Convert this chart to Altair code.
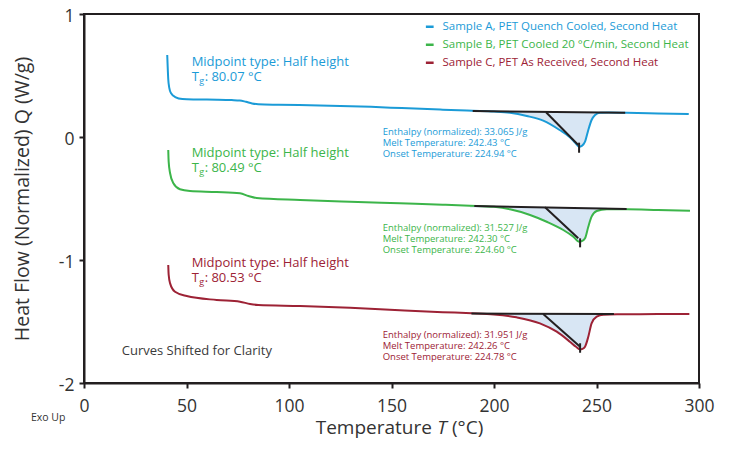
import altair as alt
import pandas as pd

FONT = "Open Sans"
AX = "#231f20"
FILL = "#d8e6f4"

SERIES = ["Sample A, PET Quench Cooled, Second Heat",
          "Sample B, PET Cooled 20 °C/min, Second Heat",
          "Sample C, PET As Received, Second Heat"]
COLORS = ["#1b9bd7", "#3cb54a", "#9d2235"]

# Curve A (blue)
A_T = [40.6, 40.8, 41.1, 41.6, 42.5, 44.5, 48, 55, 65, 72, 76, 79, 82, 85, 95, 115, 140, 155, 175,
       189.6, 200, 207.8, 216, 224, 232, 237, 239.5, 241.5, 243, 244.4, 246, 247.6, 249.3, 251.7,
       256, 264.7, 280, 295]
A_Q = [0.667, 0.58, 0.47, 0.40, 0.355, 0.325, 0.308, 0.305, 0.303, 0.300, 0.297, 0.286, 0.273, 0.266,
       0.262, 0.257, 0.245, 0.235, 0.222,
       0.213, 0.207, 0.197, 0.171, 0.133, 0.057, -0.002, -0.045, -0.079, -0.07, -0.038, 0.057, 0.138,
       0.179, 0.198, 0.199, 0.197, 0.192, 0.187]

# Curve B (green)
B_T = [41.1, 41.3, 42, 43.6, 46.8, 51.7, 64.7, 76.1, 80.2, 84.2, 105.4, 129.8, 154, 175, 188.3,
       200, 207.8, 217.6, 225.7, 233.8, 238.7, 241.6, 243, 244.4, 246, 247.6, 250.1, 255, 265, 280, 295.6]
B_Q = [-0.106, -0.2, -0.295, -0.376, -0.425, -0.439, -0.447, -0.458, -0.480, -0.496, -0.512, -0.526,
       -0.539, -0.550, -0.558, -0.568, -0.588, -0.634, -0.689, -0.756, -0.810, -0.851, -0.845, -0.824,
       -0.729, -0.648, -0.602, -0.588, -0.587, -0.593, -0.599]

# Curve C (red)
C_T = [41.1, 41.3, 42, 44.4, 50.1, 64.7, 76.1, 81, 85, 105.4, 129.8, 154, 175, 189.1, 200, 211,
       222.4, 230.6, 237, 240, 242, 243.2, 244.4, 246, 247.6, 250.1, 253.3, 260, 280, 295.3]
C_Q = [-1.041, -1.12, -1.19, -1.258, -1.293, -1.325, -1.339, -1.358, -1.366, -1.374, -1.388, -1.408,
       -1.424, -1.433, -1.443, -1.466, -1.515, -1.583, -1.664, -1.705, -1.726, -1.722, -1.705, -1.624,
       -1.515, -1.461, -1.445, -1.441, -1.44, -1.44]

# analysis constructions
BASELINES = [(189.6, 0.211, 264.0, 0.198), (190.4, -0.561, 264.7, -0.585), (189.0, -1.435, 258.5, -1.44)]
TANGENTS = [(225.4, 0.201, 241.1, -0.065), (224.9, -0.572, 241.1, -0.824), (224.0, -1.44, 242.0, -1.705)]
TICKS = [(241.5, -0.046, -0.128), (242.0, -0.824, -0.897), (242.0, -1.677, -1.754)]
FILL_RANGE = [(189.6, 251.7, 0.205), (188.3, 255.0, -0.573), (189.1, 253.3, -1.438)]

TG = ["80.07", "80.49", "80.53"]
ENTHALPY = ["33.065", "31.527", "31.951"]
MELT = ["242.43", "242.30", "242.26"]
ONSET = ["224.94", "224.60", "224.78"]

# annotation anchors (data coordinates)
MID_X = 52.5
MID_Y = [0.61, -0.128, -1.024]
MELT_X = 145.7
MELT_Y = [0.043, -0.737, -1.61]
SHIFT_POS = (18.4, -1.737)
EXO_POS = (-25.9, -2.285)
XTITLE_POS = (174.6, -2.415)

curves = pd.concat([
    pd.DataFrame({"T": t, "Q": q, "series": s})
    for t, q, s in [(A_T, A_Q, SERIES[0]), (B_T, B_Q, SERIES[1]), (C_T, C_Q, SERIES[2])]
], ignore_index=True)

fills = []
for s, (lo, hi, base) in zip(SERIES, FILL_RANGE):
    sub = curves[(curves.series == s) & (curves["T"] >= lo) & (curves["T"] <= hi)].copy()
    sub["base"] = base
    fills.append(sub)
fill_df = pd.concat(fills, ignore_index=True)

segs = []
for s, b, t, k in zip(SERIES, BASELINES, TANGENTS, TICKS):
    segs.append({"series": s, "T": b[0], "Q": b[1], "T2": b[2], "Q2": b[3]})
    segs.append({"series": s, "T": t[0], "Q": t[1], "T2": t[2], "Q2": t[3]})
    segs.append({"series": s, "T": k[0], "Q": k[1], "T2": k[0], "Q2": k[2]})
seg_df = pd.DataFrame(segs)

mid_df = pd.DataFrame({
    "T": [MID_X] * 3, "Q": MID_Y, "series": SERIES,
    "line1": ["Midpoint type: Half height"] * 3,
    "tchar": ["T"] * 3, "gchar": ["g"] * 3,
    "rest": [": " + v + " °C" for v in TG],
})
melt_df = pd.DataFrame({
    "T": [MELT_X] * 3, "Q": MELT_Y, "series": SERIES,
    "l1": ["Enthalpy (normalized): " + v + " J/g" for v in ENTHALPY],
    "l2": ["Melt Temperature: " + v + " °C" for v in MELT],
    "l3": ["Onset Temperature: " + v + " °C" for v in ONSET],
})

xscale = alt.Scale(domain=[0, 300], nice=False, zero=False)
yscale = alt.Scale(domain=[-2, 1], nice=False, zero=False)
cscale = alt.Scale(domain=SERIES, range=COLORS)

xaxis = alt.Axis(values=[0, 50, 100, 150, 200, 250, 300], title=None, grid=False,
                 tickSize=5, tickWidth=2, domainWidth=2, domainColor=AX, tickColor=AX,
                 labelFontSize=17.5, labelPadding=9, labelColor="#333333", labelFont=FONT,
                 labelFlush=False)
yaxis = alt.Axis(values=[-2, -1, 0, 1], title="Heat Flow (Normalized) Q (W/g)", grid=False,
                 tickSize=5, tickWidth=2, domainWidth=2, domainColor=AX, tickColor=AX,
                 labelFontSize=17.5, labelPadding=5, labelColor="#333333", labelFont=FONT,
                 labelFlush=False, labelOffset=2,
                 labelExpr="datum.value < 0 ? '-' + (-datum.value) : '' + datum.value",
                 titleX=-62, titleY=184.5, titleAngle=270, titleAlign="center",
                 titleBaseline="middle", titleFontSize=19.5, titleFontWeight="normal",
                 titleColor="#333333", titleFont=FONT)


def X():
    return alt.X("T:Q", scale=xscale, axis=xaxis)


def Y():
    return alt.Y("Q:Q", scale=yscale, axis=yaxis)


def C():
    return alt.Color("series:N", scale=cscale, legend=None)


fill_layer = alt.Chart(fill_df).mark_area(color=FILL, interpolate="monotone").encode(
    x=X(), y=Y(), y2="base:Q", detail="series:N")

curve_layer = alt.Chart(curves).mark_line(strokeWidth=2, interpolate="monotone").encode(
    x=X(), y=Y(),
    color=alt.Color("series:N", scale=cscale, legend=alt.Legend(
        orient="none", legendX=340, legendY=7, title=None, symbolType="stroke",
        symbolStrokeWidth=2.5, symbolSize=60, labelFontSize=11.5, labelFont=FONT,
        labelColor={"expr": "scale('color', datum.value)"}, rowPadding=5, labelOffset=7,
        labelLimit=0, padding=0)),
    order="T:Q")

seg_layer = alt.Chart(seg_df).mark_rule(color=AX, strokeWidth=2).encode(
    x=X(), y=Y(), x2="T2:Q", y2="Q2:Q")


def text_layer(df, field, size, **kw):
    return alt.Chart(df).mark_text(align="left", baseline="middle", font=FONT,
                                   fontSize=size, **kw).encode(
        x=X(), y=Y(), text=field + ":N", color=C())


mid1 = text_layer(mid_df, "line1", 13)
mid_t = text_layer(mid_df, "tchar", 13, dy=15)
mid_g = text_layer(mid_df, "gchar", 9, dx=7.5, dy=19)
mid_r = text_layer(mid_df, "rest", 13, dx=13, dy=15)
melt1 = text_layer(melt_df, "l1", 9.5)
melt2 = text_layer(melt_df, "l2", 9.5, dy=11)
melt3 = text_layer(melt_df, "l3", 9.5, dy=22)

misc_df = pd.DataFrame({"T": [SHIFT_POS[0]], "Q": [SHIFT_POS[1]], "text": ["Curves Shifted for Clarity"]})
shift_layer = alt.Chart(misc_df).mark_text(align="left", baseline="middle", font=FONT,
                                           fontSize=13, color="#3a3a3a").encode(
    x=X(), y=Y(), text="text:N")
exo_df = pd.DataFrame({"T": [EXO_POS[0]], "Q": [EXO_POS[1]], "text": ["Exo Up"]})
exo_layer = alt.Chart(exo_df).mark_text(align="left", baseline="middle", font=FONT,
                                        fontSize=10.5, color="#333333").encode(
    x=X(), y=Y(), text="text:N")

xt_df = pd.DataFrame({"T": [XTITLE_POS[0]], "Q": [XTITLE_POS[1]],
                      "a": ["Temperature"], "b": ["T"], "c": ["(°C)"]})
xt_a = alt.Chart(xt_df).mark_text(align="right", baseline="alphabetic", font=FONT, fontSize=19,
                                  color="#333333", dx=-10).encode(x=X(), y=Y(), text="a:N")
xt_b = alt.Chart(xt_df).mark_text(align="center", baseline="alphabetic", font=FONT, fontSize=19,
                                  fontStyle="italic", color="#333333").encode(x=X(), y=Y(), text="b:N")
xt_c = alt.Chart(xt_df).mark_text(align="left", baseline="alphabetic", font=FONT, fontSize=19,
                                  color="#333333", dx=10).encode(x=X(), y=Y(), text="c:N")

chart = alt.layer(
    fill_layer, curve_layer, seg_layer,
    mid1, mid_t, mid_g, mid_r, melt1, melt2, melt3,
    shift_layer, exo_layer, xt_a, xt_b, xt_c
).properties(
    width=615, height=369,
    autosize=alt.AutoSizeParams(type="none"),
    padding={"left": 76, "top": 6, "right": 25, "bottom": 58},
    background="white",
).configure_view(stroke=AX, strokeWidth=2)

chart.save("out.html", embed_options={"renderer": "svg", "actions": False})
